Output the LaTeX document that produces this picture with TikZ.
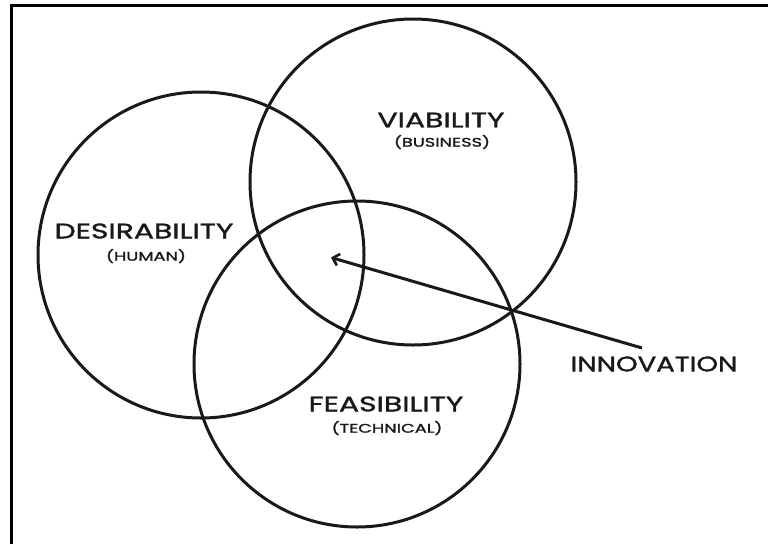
\documentclass[tikz,border=0pt]{standalone}
\usepackage{fontspec}
\setmainfont{Poppins}[FakeStretch=1.42,FakeBold=1.6]
\newfontfamily\innofont{Poppins}[FakeStretch=1.31,FakeBold=1.6]
\usetikzlibrary{arrows.meta}
\begin{document}
\begin{tikzpicture}[x=1pt,y=-1pt,
  ring/.style={draw=black!90, line width=3pt, circle, minimum size=326pt, inner sep=0pt},
  big/.style={font=\fontsize{21}{23}\selectfont, inner sep=0pt, text=black!90},
  small/.style={font=\fontsize{12.5}{14}\selectfont, inner sep=0pt, text=black!90},
  frameline/.style={line width=2.5pt, black},
  arrowline/.style={line width=3pt, black!90, -{Straight Barb[length=6pt,width=12pt,line width=2.6pt]}}]
\useasboundingbox (0,0) rectangle (768,544);
\fill[white] (0,0) rectangle (768,544);
% frame
\coordinate (fbl) at (11.5,544);
\coordinate (ftl) at (11.5,5.5);
\coordinate (ftr) at (768,5.5);
\draw[frameline] (fbl) -- (ftl) -- (ftr);
% circles
\node[ring] (via) at (413,182) {};
\node[ring] (des) at (201,255) {};
\node[ring] (fea) at (357,364) {};
% labels
\node[big] (viat) at (441,120) {VIABILITY};
\node[small] (vias) at (442,142) {(BUSINESS)};
\node[big] (dest) at (144,231) {DESIRABILITY};
\node[small] (dess) at (146,256) {(HUMAN)};
\node[big] (feat) at (386,404) {FEASIBILITY};
\node[small] (feas) at (387,428) {(TECHNICAL)};
\node[big, font=\innofont\fontsize{21}{23}\selectfont] (inno) at (654,364) {INNOVATION};
% arrow
\coordinate (tail) at (642,348);
\coordinate (tip) at (331,257.5);
\draw[arrowline] (tail) -- (tip);
\end{tikzpicture}
\end{document}
